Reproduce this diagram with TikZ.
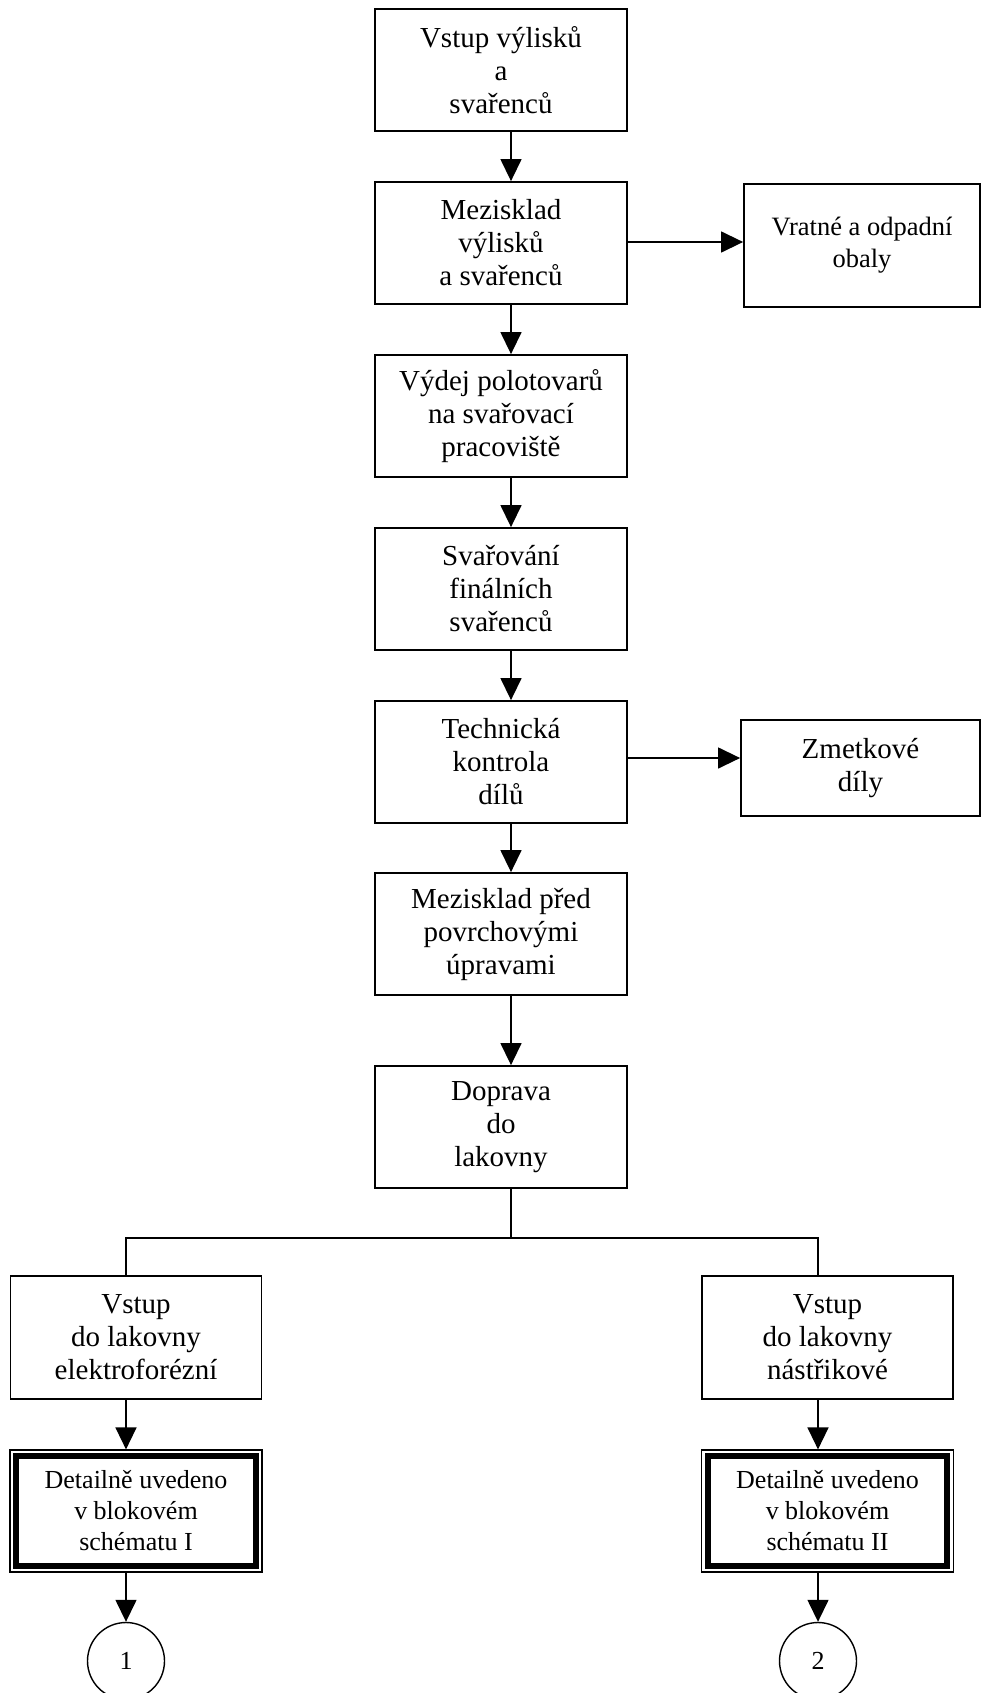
\documentclass[tikz,border=0pt]{standalone}
\usepackage{fontspec}
\setmainfont{Liberation Serif}
\usetikzlibrary{arrows.meta}
\begin{document}
\begin{tikzpicture}[x=1pt,y=-1pt,
  box/.style={draw,line width=1.8pt,inner sep=0pt,align=center,
    font=\fontsize{29}{33}\selectfont},
  mainbox/.style={box,minimum width=252pt,minimum height=122pt},
  sidebox/.style={box},
  lowbox/.style={box,minimum width=251pt,minimum height=123pt},
  dblbox/.style={draw,line width=1.2pt,inner sep=0pt,align=center,
    minimum width=252pt,minimum height=122pt,
    font=\fontsize{26}{31}\selectfont},
  endcirc/.style={draw,circle,line width=1.4pt,minimum size=77pt,inner sep=0pt,
    font=\fontsize{26}{31}\selectfont},
  conn/.style={line width=1.4pt},
  arr/.style={conn,-{Triangle[length=22pt,width=21pt]}}
]
\useasboundingbox (0,0) rectangle (982,1693);
\fill[white] (0,0) rectangle (982,1693);

\coordinate (ax) at (511,0);
\coordinate (lx) at (126,0);
\coordinate (rx) at (818,0);
\coordinate (sp) at (511,1238);

\node[mainbox] (b1) at (501,70)   {Vstup výlisků\\a\\svařenců};
\node[mainbox] (b2) at (501,243)  {Mezisklad\\výlisků\\a svařenců};
\node[mainbox] (b3) at (501,416)  {Výdej polotovarů\\na svařovací\\pracoviště};
\node[mainbox] (b4) at (501,589)  {Svařování\\finálních\\svařenců};
\node[mainbox] (b5) at (501,762)  {Technická\\kontrola\\dílů};
\node[mainbox] (b6) at (501,934)  {Mezisklad před\\povrchovými\\úpravami};
\node[mainbox] (b7) at (501,1127) {Doprava\\do\\lakovny};

\node[sidebox,minimum width=236pt,minimum height=123pt,
  font=\fontsize{26.5}{32}\selectfont] (s1) at (862,245.5) {Vratné a odpadní\\obaly};
\node[sidebox,minimum width=239pt,minimum height=96pt] (s2) at (860.5,768) {Zmetkové\\díly};

\node[lowbox] (l1) at (136,1337.5) {Vstup\\do lakovny\\elektroforézní};
\node[lowbox] (r1) at (827.5,1337.5) {Vstup\\do lakovny\\nástřikové};

\node[dblbox] (ld) at (136,1511) {Detailně uvedeno\\v blokovém\\schématu I};
\node[dblbox] (rd) at (827.5,1511) {Detailně uvedeno\\v blokovém\\schématu II};
\draw[line width=6pt] ([shift={(7pt,7pt)}]ld.south west) rectangle ([shift={(-7pt,-7pt)}]ld.north east);
\draw[line width=6pt] ([shift={(7pt,7pt)}]rd.south west) rectangle ([shift={(-7pt,-7pt)}]rd.north east);

\node[endcirc] (c1) at (126,1661) {1};
\node[endcirc] (c2) at (818,1661) {2};

\draw[arr] (b1.south -| ax) -- (b2.north -| ax);
\draw[arr] (b2.south -| ax) -- (b3.north -| ax);
\draw[arr] (b3.south -| ax) -- (b4.north -| ax);
\draw[arr] (b4.south -| ax) -- (b5.north -| ax);
\draw[arr] (b5.south -| ax) -- (b6.north -| ax);
\draw[arr] (b6.south -| ax) -- (b7.north -| ax);

\draw[arr] ([yshift=1pt]b2.east) -- ([yshift=1pt]b2.east -| s1.west);
\draw[arr] ([yshift=4pt]b5.east) -- ([yshift=4pt]b5.east -| s2.west);

\draw[conn] (b7.south -| ax) -- (sp);
\draw[conn] (l1.north -| lx) -- (lx |- sp) -- (rx |- sp) -- (r1.north -| rx);

\draw[arr] (l1.south -| lx) -- (ld.north -| lx);
\draw[arr] (r1.south -| rx) -- (rd.north -| rx);
\draw[arr] (ld.south -| lx) -- (c1.north);
\draw[arr] (rd.south -| rx) -- (c2.north);
\end{tikzpicture}
\end{document}
